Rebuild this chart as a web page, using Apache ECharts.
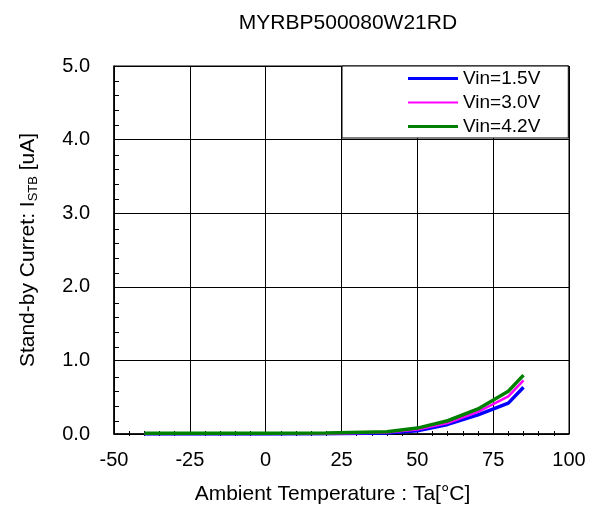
<!DOCTYPE html>
<html>
<head>
<meta charset="utf-8">
<script src="https://cdn.jsdelivr.net/npm/echarts@6/dist/echarts.min.js"></script>
<style>
  html, body { margin: 0; padding: 0; background: #fff; }
  #chart { width: 600px; height: 510px; }
</style>
</head>
<body>
<div id="chart"></div>
<script>
// temperatures (°C) where the curves were measured
var temps = [-40, -20, 0, 20, 40, 50, 60, 70, 80, 85];
// stand-by current, uA
var vin15 = [0, 0, 0, 0.005, 0.015, 0.045, 0.13, 0.26, 0.42, 0.635];
var vin30 = [0, 0, 0, 0.005, 0.02, 0.06, 0.15, 0.30, 0.51, 0.73];
var vin42 = [0.01, 0.01, 0.01, 0.015, 0.03, 0.08, 0.18, 0.34, 0.58, 0.80];
var seriesNames = ['Vin=1.5V', 'Vin=3.0V', 'Vin=4.2V'];

function pairs(ys) {
  return temps.map(function (t, i) { return [t, ys[i]]; });
}

var chartDom = document.getElementById('chart');
var myChart = echarts.init(chartDom);
var font = 'Liberation Sans, Arial, sans-serif';

var gridLeft = 114, gridRight = 31, gridTop = 66, gridBottom = 74;

// helper axes live in small grids that touch the plot from outside,
// so their (outward) minor ticks point into the plot
var tickOnly = {
  axisLine: { show: false, onZero: false },
  axisTick: { show: false },
  axisLabel: { show: false },
  splitLine: { show: false },
  minorTick: { show: true, splitNumber: 5, length: 5, lineStyle: { color: '#000' } }
};
var hidden = { type: 'value', min: 0, max: 1, show: false, axisLine: { onZero: false } };

var option = {
  animation: false,
  backgroundColor: '#fff',
  title: {
    text: 'MYRBP500080W21RD',
    left: 343,
    textAlign: 'center',
    top: 8,
    textStyle: { fontFamily: font, fontSize: 21, fontWeight: 'normal', color: '#000' }
  },
  legend: {
    orient: 'vertical',
    left: 342,
    top: 66,
    padding: [3, 28, 2, 66],
    backgroundColor: '#fff',
    borderColor: '#000',
    borderWidth: 1,
    itemWidth: 50,
    itemHeight: 14,
    itemGap: 5,
    itemTextGap: 6,
    textStyle: { fontFamily: font, fontSize: 19, color: '#000', lineHeight: 18 },
    data: [
      { name: seriesNames[0], icon: 'path://M0,0H50V3H0Z' },
      { name: seriesNames[1], icon: 'path://M0,0H50V2H0Z' },
      { name: seriesNames[2], icon: 'path://M0,0H50V3H0Z' }
    ]
  },
  grid: [
    {
      left: gridLeft, right: gridRight, top: gridTop, bottom: gridBottom,
      show: true, borderColor: '#000', borderWidth: 1
    },
    // strip left of the plot, its right edge is the y axis
    { left: 20, right: 600 - gridLeft, top: gridTop, bottom: gridBottom, show: false },
    // strip below the plot, its top edge is the x axis
    { left: gridLeft, right: gridRight, top: 510 - gridBottom, bottom: 10, show: false }
  ],
  xAxis: [
    {
      type: 'value',
      gridIndex: 0,
      min: -50,
      max: 100,
      interval: 25,
      name: 'Ambient Temperature : Ta[°C]',
      nameLocation: 'middle',
      nameGap: 50,
      nameTextStyle: { fontFamily: font, fontSize: 21, color: '#000', padding: [0, 18, 0, 0] },
      axisLine: { show: true, onZero: false, lineStyle: { color: '#000', width: 1.5 } },
      axisTick: { show: false },
      minorTick: { show: false },
      axisLabel: { fontFamily: font, fontSize: 20, color: '#000', margin: 16 },
      splitLine: { show: true, lineStyle: { color: '#000', width: 1 } }
    },
    Object.assign({ gridIndex: 1 }, hidden),
    Object.assign({
      type: 'value', gridIndex: 2, min: -50, max: 100, interval: 25, position: 'top'
    }, tickOnly)
  ],
  yAxis: [
    {
      type: 'value',
      gridIndex: 0,
      min: 0,
      max: 5,
      interval: 1,
      name: '{n|Stand-by Curret: I}{s|STB}{n| [uA]}',
      nameLocation: 'middle',
      nameGap: 74,
      nameRotate: 90,
      nameTextStyle: {
        rich: {
          n: { fontFamily: font, fontSize: 21, color: '#000', lineHeight: 24 },
          s: { fontFamily: font, fontSize: 13, color: '#000', lineHeight: 13, verticalAlign: 'bottom' }
        }
      },
      axisLine: { show: true, onZero: false, lineStyle: { color: '#000', width: 1.5 } },
      axisTick: { show: false },
      minorTick: { show: false },
      axisLabel: {
        fontFamily: font, fontSize: 20, color: '#000', margin: 24,
        formatter: function (v) { return v.toFixed(1); }
      },
      splitLine: { show: true, lineStyle: { color: '#000', width: 1 } }
    },
    Object.assign({
      type: 'value', gridIndex: 1, min: 0, max: 5, interval: 1, position: 'right'
    }, tickOnly),
    Object.assign({ gridIndex: 2 }, hidden)
  ],
  series: [
    {
      name: seriesNames[0], type: 'line', data: pairs(vin15),
      showSymbol: false, color: '#0000ff',
      lineStyle: { width: 3.5 }
    },
    {
      name: seriesNames[1], type: 'line', data: pairs(vin30),
      showSymbol: false, color: '#ff00ff',
      lineStyle: { width: 2.5 }
    },
    {
      name: seriesNames[2], type: 'line', data: pairs(vin42),
      showSymbol: false, color: '#008000',
      lineStyle: { width: 3.5 }
    }
  ]
};
myChart.setOption(option);
window.addEventListener('resize', function () { myChart.resize(); });
</script>
</body>
</html>
